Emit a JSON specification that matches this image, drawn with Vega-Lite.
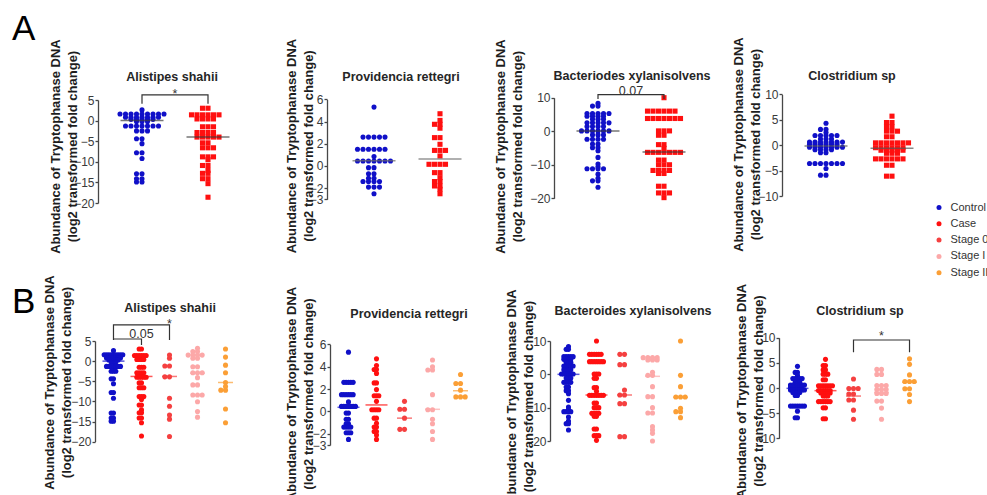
{
"$schema": "https://vega.github.io/schema/vega-lite/v6.json",
"padding": {"left": 12, "top": 12, "right": 2, "bottom": 2},
"config": {
  "font": "Liberation Sans",
  "view": {"stroke": null},
  "axis": {"domainColor": "#474747", "domainWidth": 1.3, "tickColor": "#474747", "tickWidth": 1.3, "tickSize": 3, "labelFont": "Liberation Sans", "labelFontSize": 12, "labelColor": "#3a3a3a", "labelPadding": 1, "labelOverlap": false, "labelFlush": false, "grid": false, "titleFont": "Liberation Sans", "titleFontSize": 13, "titleFontWeight": "bold", "titleColor": "#1e1e1e", "titleLineHeight": 17, "titleBaseline": "middle", "titleAlign": "center", "titleAngle": 270, "labelExpr": "replace(datum.label, '-', '\u2212')"},
  "title": {"font": "Liberation Sans", "fontSize": 12.5, "fontWeight": "bold", "color": "#262626", "anchor": "middle", "frame": "group", "offset": 0},
  "legend": {"labelFont": "Liberation Sans", "labelFontSize": 11, "labelColor": "#333333", "symbolType": "circle", "symbolSize": 25, "rowPadding": 4.3, "labelOffset": 6, "padding": 0, "symbolStrokeWidth": 0}
},
"datasets": {
"pts": [
{"sp":"AS","g":"Control","v":2.6},
{"sp":"AS","g":"Control","v":1.6},{"sp":"AS","g":"Control","v":1.6},{"sp":"AS","g":"Control","v":1.6},{"sp":"AS","g":"Control","v":1.6},{"sp":"AS","g":"Control","v":1.6},{"sp":"AS","g":"Control","v":1.6},{"sp":"AS","g":"Control","v":1.6},{"sp":"AS","g":"Control","v":1.6},{"sp":"AS","g":"Control","v":1.6},
{"sp":"AS","g":"Control","v":0.8},{"sp":"AS","g":"Control","v":0.8},{"sp":"AS","g":"Control","v":0.8},{"sp":"AS","g":"Control","v":0.8},{"sp":"AS","g":"Control","v":0.8},{"sp":"AS","g":"Control","v":0.8},{"sp":"AS","g":"Control","v":0.8},
{"sp":"AS","g":"Control","v":0.3},{"sp":"AS","g":"Control","v":0.3},{"sp":"AS","g":"Control","v":0.3},{"sp":"AS","g":"Control","v":0.3},{"sp":"AS","g":"Control","v":0.3},
{"sp":"AS","g":"Control","v":-0.2},{"sp":"AS","g":"Control","v":-0.2},{"sp":"AS","g":"Control","v":-0.2},
{"sp":"AS","g":"Control","v":-1.3},{"sp":"AS","g":"Control","v":-1.3},{"sp":"AS","g":"Control","v":-1.3},{"sp":"AS","g":"Control","v":-1.3},{"sp":"AS","g":"Control","v":-1.3},{"sp":"AS","g":"Control","v":-1.3},{"sp":"AS","g":"Control","v":-1.3},
{"sp":"AS","g":"Control","v":-2.5},{"sp":"AS","g":"Control","v":-2.5},{"sp":"AS","g":"Control","v":-2.5},
{"sp":"AS","g":"Control","v":-4.4},{"sp":"AS","g":"Control","v":-4.4},
{"sp":"AS","g":"Control","v":-5.6},
{"sp":"AS","g":"Control","v":-7.8},{"sp":"AS","g":"Control","v":-7.8},
{"sp":"AS","g":"Control","v":-9.2},
{"sp":"AS","g":"Control","v":-12.9},{"sp":"AS","g":"Control","v":-12.9},
{"sp":"AS","g":"Control","v":-14.1},{"sp":"AS","g":"Control","v":-14.1},
{"sp":"AS","g":"Control","v":-14.9},{"sp":"AS","g":"Control","v":-14.9},
{"sp":"AS","g":"Case","v":3.0},{"sp":"AS","g":"Case","v":3.0},
{"sp":"AS","g":"Case","v":1.4},{"sp":"AS","g":"Case","v":1.4},{"sp":"AS","g":"Case","v":1.4},{"sp":"AS","g":"Case","v":1.4},{"sp":"AS","g":"Case","v":1.4},{"sp":"AS","g":"Case","v":1.4},
{"sp":"AS","g":"Case","v":0.4},{"sp":"AS","g":"Case","v":0.4},{"sp":"AS","g":"Case","v":0.4},{"sp":"AS","g":"Case","v":0.4},
{"sp":"AS","g":"Case","v":-1.5},{"sp":"AS","g":"Case","v":-1.5},{"sp":"AS","g":"Case","v":-1.5},
{"sp":"AS","g":"Case","v":-2.9},{"sp":"AS","g":"Case","v":-2.9},{"sp":"AS","g":"Case","v":-2.9},{"sp":"AS","g":"Case","v":-2.9},
{"sp":"AS","g":"Case","v":-4.0},{"sp":"AS","g":"Case","v":-4.0},{"sp":"AS","g":"Case","v":-4.0},{"sp":"AS","g":"Case","v":-4.0},{"sp":"AS","g":"Case","v":-4.0},
{"sp":"AS","g":"Case","v":-5.4},{"sp":"AS","g":"Case","v":-5.4},
{"sp":"AS","g":"Case","v":-6.6},{"sp":"AS","g":"Case","v":-6.6},{"sp":"AS","g":"Case","v":-6.6},
{"sp":"AS","g":"Case","v":-8.8},{"sp":"AS","g":"Case","v":-8.8},{"sp":"AS","g":"Case","v":-8.8},
{"sp":"AS","g":"Case","v":-9.5},
{"sp":"AS","g":"Case","v":-10.9},{"sp":"AS","g":"Case","v":-10.9},
{"sp":"AS","g":"Case","v":-12.1},
{"sp":"AS","g":"Case","v":-12.8},{"sp":"AS","g":"Case","v":-12.8},
{"sp":"AS","g":"Case","v":-14.1},{"sp":"AS","g":"Case","v":-14.1},
{"sp":"AS","g":"Case","v":-15.3},
{"sp":"AS","g":"Case","v":-18.6},
{"sp":"AS","g":"Stage 0","v":1.5},{"sp":"AS","g":"Stage 0","v":0.7},{"sp":"AS","g":"Stage 0","v":-1.2},{"sp":"AS","g":"Stage 0","v":-1.2},{"sp":"AS","g":"Stage 0","v":-3.9},{"sp":"AS","g":"Stage 0","v":-3.9},{"sp":"AS","g":"Stage 0","v":-9.2},{"sp":"AS","g":"Stage 0","v":-11.2},{"sp":"AS","g":"Stage 0","v":-13.4},{"sp":"AS","g":"Stage 0","v":-14.4},{"sp":"AS","g":"Stage 0","v":-18.7},
{"sp":"AS","g":"Stage I","v":3.2},{"sp":"AS","g":"Stage I","v":2.4},{"sp":"AS","g":"Stage I","v":2.4},{"sp":"AS","g":"Stage I","v":1.5},{"sp":"AS","g":"Stage I","v":1.5},{"sp":"AS","g":"Stage I","v":1.5},{"sp":"AS","g":"Stage I","v":1.5},{"sp":"AS","g":"Stage I","v":0.7},{"sp":"AS","g":"Stage I","v":0.7},{"sp":"AS","g":"Stage I","v":-1.4},{"sp":"AS","g":"Stage I","v":-1.4},{"sp":"AS","g":"Stage I","v":-2.9},{"sp":"AS","g":"Stage I","v":-2.9},{"sp":"AS","g":"Stage I","v":-2.9},{"sp":"AS","g":"Stage I","v":-4.1},{"sp":"AS","g":"Stage I","v":-5.9},{"sp":"AS","g":"Stage I","v":-5.9},{"sp":"AS","g":"Stage I","v":-8.4},{"sp":"AS","g":"Stage I","v":-8.4},{"sp":"AS","g":"Stage I","v":-8.4},{"sp":"AS","g":"Stage I","v":-10.1},{"sp":"AS","g":"Stage I","v":-12.5},{"sp":"AS","g":"Stage I","v":-13.9},
{"sp":"AS","g":"Stage II","v":3.0},{"sp":"AS","g":"Stage II","v":1.0},{"sp":"AS","g":"Stage II","v":-1.0},{"sp":"AS","g":"Stage II","v":-2.9},{"sp":"AS","g":"Stage II","v":-5.3},{"sp":"AS","g":"Stage II","v":-6.3},{"sp":"AS","g":"Stage II","v":-7.2},{"sp":"AS","g":"Stage II","v":-7.2},{"sp":"AS","g":"Stage II","v":-11.9},{"sp":"AS","g":"Stage II","v":-15.3},

{"sp":"PR","g":"Control","v":5.3},
{"sp":"PR","g":"Control","v":2.6},{"sp":"PR","g":"Control","v":2.6},{"sp":"PR","g":"Control","v":2.6},{"sp":"PR","g":"Control","v":2.6},{"sp":"PR","g":"Control","v":2.6},
{"sp":"PR","g":"Control","v":1.5},{"sp":"PR","g":"Control","v":1.5},{"sp":"PR","g":"Control","v":1.5},{"sp":"PR","g":"Control","v":1.5},{"sp":"PR","g":"Control","v":1.5},{"sp":"PR","g":"Control","v":1.5},
{"sp":"PR","g":"Control","v":0.85},
{"sp":"PR","g":"Control","v":0.45},{"sp":"PR","g":"Control","v":0.45},{"sp":"PR","g":"Control","v":0.45},{"sp":"PR","g":"Control","v":0.45},{"sp":"PR","g":"Control","v":0.45},{"sp":"PR","g":"Control","v":0.45},{"sp":"PR","g":"Control","v":0.45},
{"sp":"PR","g":"Control","v":-0.15},{"sp":"PR","g":"Control","v":-0.15},
{"sp":"PR","g":"Control","v":-0.7},{"sp":"PR","g":"Control","v":-0.7},
{"sp":"PR","g":"Control","v":-1.1},{"sp":"PR","g":"Control","v":-1.1},
{"sp":"PR","g":"Control","v":-1.4},{"sp":"PR","g":"Control","v":-1.4},{"sp":"PR","g":"Control","v":-1.4},{"sp":"PR","g":"Control","v":-1.4},
{"sp":"PR","g":"Control","v":-1.9},{"sp":"PR","g":"Control","v":-1.9},{"sp":"PR","g":"Control","v":-1.9},
{"sp":"PR","g":"Control","v":-2.5},
{"sp":"PR","g":"Case","v":4.7},{"sp":"PR","g":"Case","v":4.1},{"sp":"PR","g":"Case","v":3.75},{"sp":"PR","g":"Case","v":3.75},{"sp":"PR","g":"Case","v":3.4},{"sp":"PR","g":"Case","v":2.55},{"sp":"PR","g":"Case","v":2.55},{"sp":"PR","g":"Case","v":1.95},{"sp":"PR","g":"Case","v":1.4},{"sp":"PR","g":"Case","v":1.4},{"sp":"PR","g":"Case","v":1.4},{"sp":"PR","g":"Case","v":0.9},{"sp":"PR","g":"Case","v":0.15},{"sp":"PR","g":"Case","v":0.15},{"sp":"PR","g":"Case","v":0.15},{"sp":"PR","g":"Case","v":0.15},{"sp":"PR","g":"Case","v":-0.6},{"sp":"PR","g":"Case","v":-0.6},{"sp":"PR","g":"Case","v":-1.05},{"sp":"PR","g":"Case","v":-1.4},{"sp":"PR","g":"Case","v":-1.4},{"sp":"PR","g":"Case","v":-1.8},{"sp":"PR","g":"Case","v":-1.8},{"sp":"PR","g":"Case","v":-2.1},{"sp":"PR","g":"Case","v":-2.5},
{"sp":"PR","g":"Stage 0","v":0.9},{"sp":"PR","g":"Stage 0","v":0.2},{"sp":"PR","g":"Stage 0","v":0.2},{"sp":"PR","g":"Stage 0","v":-0.6},{"sp":"PR","g":"Stage 0","v":-1.6},{"sp":"PR","g":"Stage 0","v":-1.6},
{"sp":"PR","g":"Stage I","v":4.6},{"sp":"PR","g":"Stage I","v":4.0},{"sp":"PR","g":"Stage I","v":3.7},{"sp":"PR","g":"Stage I","v":3.7},{"sp":"PR","g":"Stage I","v":1.5},{"sp":"PR","g":"Stage I","v":0.15},{"sp":"PR","g":"Stage I","v":0.15},{"sp":"PR","g":"Stage I","v":-0.7},{"sp":"PR","g":"Stage I","v":-1.1},{"sp":"PR","g":"Stage I","v":-1.8},{"sp":"PR","g":"Stage I","v":-2.5},
{"sp":"PR","g":"Stage II","v":3.3},{"sp":"PR","g":"Stage II","v":2.5},{"sp":"PR","g":"Stage II","v":2.5},{"sp":"PR","g":"Stage II","v":1.9},{"sp":"PR","g":"Stage II","v":1.3},{"sp":"PR","g":"Stage II","v":1.3},{"sp":"PR","g":"Stage II","v":1.3},

{"sp":"BX","g":"Control","v":8.3},
{"sp":"BX","g":"Control","v":7.5},{"sp":"BX","g":"Control","v":7.5},
{"sp":"BX","g":"Control","v":5.3},{"sp":"BX","g":"Control","v":5.3},{"sp":"BX","g":"Control","v":5.3},{"sp":"BX","g":"Control","v":5.3},{"sp":"BX","g":"Control","v":5.3},
{"sp":"BX","g":"Control","v":4.5},{"sp":"BX","g":"Control","v":4.5},{"sp":"BX","g":"Control","v":4.5},{"sp":"BX","g":"Control","v":4.5},
{"sp":"BX","g":"Control","v":3.6},{"sp":"BX","g":"Control","v":3.6},{"sp":"BX","g":"Control","v":3.6},
{"sp":"BX","g":"Control","v":2.5},{"sp":"BX","g":"Control","v":2.5},{"sp":"BX","g":"Control","v":2.5},{"sp":"BX","g":"Control","v":2.5},{"sp":"BX","g":"Control","v":2.5},
{"sp":"BX","g":"Control","v":1.4},{"sp":"BX","g":"Control","v":1.4},{"sp":"BX","g":"Control","v":1.4},{"sp":"BX","g":"Control","v":1.4},
{"sp":"BX","g":"Control","v":0.1},{"sp":"BX","g":"Control","v":0.1},{"sp":"BX","g":"Control","v":0.1},{"sp":"BX","g":"Control","v":0.1},{"sp":"BX","g":"Control","v":0.1},{"sp":"BX","g":"Control","v":0.1},
{"sp":"BX","g":"Control","v":-1.1},{"sp":"BX","g":"Control","v":-1.1},{"sp":"BX","g":"Control","v":-1.1},
{"sp":"BX","g":"Control","v":-2.4},{"sp":"BX","g":"Control","v":-2.4},{"sp":"BX","g":"Control","v":-2.4},{"sp":"BX","g":"Control","v":-2.4},
{"sp":"BX","g":"Control","v":-3.8},{"sp":"BX","g":"Control","v":-3.8},
{"sp":"BX","g":"Control","v":-4.9},{"sp":"BX","g":"Control","v":-4.9},
{"sp":"BX","g":"Control","v":-5.8},{"sp":"BX","g":"Control","v":-7.8},{"sp":"BX","g":"Control","v":-9.8},{"sp":"BX","g":"Control","v":-10.6},
{"sp":"BX","g":"Control","v":-11.2},{"sp":"BX","g":"Control","v":-11.2},{"sp":"BX","g":"Control","v":-11.2},{"sp":"BX","g":"Control","v":-11.2},
{"sp":"BX","g":"Control","v":-12.8},{"sp":"BX","g":"Control","v":-14.0},{"sp":"BX","g":"Control","v":-14.8},{"sp":"BX","g":"Control","v":-14.8},{"sp":"BX","g":"Control","v":-16.7},
{"sp":"BX","g":"Case","v":10.0},
{"sp":"BX","g":"Case","v":6.0},{"sp":"BX","g":"Case","v":6.0},{"sp":"BX","g":"Case","v":6.0},{"sp":"BX","g":"Case","v":6.0},{"sp":"BX","g":"Case","v":6.0},{"sp":"BX","g":"Case","v":6.0},
{"sp":"BX","g":"Case","v":3.8},{"sp":"BX","g":"Case","v":3.8},{"sp":"BX","g":"Case","v":3.8},{"sp":"BX","g":"Case","v":3.8},{"sp":"BX","g":"Case","v":3.8},{"sp":"BX","g":"Case","v":3.8},{"sp":"BX","g":"Case","v":3.8},
{"sp":"BX","g":"Case","v":0.1},{"sp":"BX","g":"Case","v":0.1},{"sp":"BX","g":"Case","v":0.1},
{"sp":"BX","g":"Case","v":-1.2},{"sp":"BX","g":"Case","v":-1.2},
{"sp":"BX","g":"Case","v":-4.0},{"sp":"BX","g":"Case","v":-4.0},
{"sp":"BX","g":"Case","v":-5.1},
{"sp":"BX","g":"Case","v":-6.3},{"sp":"BX","g":"Case","v":-6.3},{"sp":"BX","g":"Case","v":-6.3},{"sp":"BX","g":"Case","v":-6.3},{"sp":"BX","g":"Case","v":-6.3},{"sp":"BX","g":"Case","v":-6.3},{"sp":"BX","g":"Case","v":-6.3},
{"sp":"BX","g":"Case","v":-8.6},{"sp":"BX","g":"Case","v":-8.6},
{"sp":"BX","g":"Case","v":-10.0},{"sp":"BX","g":"Case","v":-10.0},{"sp":"BX","g":"Case","v":-10.0},
{"sp":"BX","g":"Case","v":-11.7},{"sp":"BX","g":"Case","v":-11.7},{"sp":"BX","g":"Case","v":-11.7},{"sp":"BX","g":"Case","v":-11.7},
{"sp":"BX","g":"Case","v":-12.6},{"sp":"BX","g":"Case","v":-12.6},
{"sp":"BX","g":"Case","v":-16.4},{"sp":"BX","g":"Case","v":-16.4},
{"sp":"BX","g":"Case","v":-18.4},{"sp":"BX","g":"Case","v":-18.4},{"sp":"BX","g":"Case","v":-18.4},
{"sp":"BX","g":"Case","v":-19.8},
{"sp":"BX","g":"Stage 0","v":6.0},{"sp":"BX","g":"Stage 0","v":6.0},{"sp":"BX","g":"Stage 0","v":2.9},{"sp":"BX","g":"Stage 0","v":2.9},{"sp":"BX","g":"Stage 0","v":-4.7},{"sp":"BX","g":"Stage 0","v":-6.2},{"sp":"BX","g":"Stage 0","v":-6.2},{"sp":"BX","g":"Stage 0","v":-8.8},{"sp":"BX","g":"Stage 0","v":-8.8},{"sp":"BX","g":"Stage 0","v":-18.7},{"sp":"BX","g":"Stage 0","v":-18.7},
{"sp":"BX","g":"Stage I","v":5.0},{"sp":"BX","g":"Stage I","v":5.0},{"sp":"BX","g":"Stage I","v":5.0},{"sp":"BX","g":"Stage I","v":5.0},{"sp":"BX","g":"Stage I","v":4.3},{"sp":"BX","g":"Stage I","v":4.3},{"sp":"BX","g":"Stage I","v":4.3},{"sp":"BX","g":"Stage I","v":0.6},{"sp":"BX","g":"Stage I","v":-0.3},{"sp":"BX","g":"Stage I","v":-0.3},{"sp":"BX","g":"Stage I","v":-3.7},{"sp":"BX","g":"Stage I","v":-6.7},{"sp":"BX","g":"Stage I","v":-6.7},{"sp":"BX","g":"Stage I","v":-10.0},{"sp":"BX","g":"Stage I","v":-11.6},{"sp":"BX","g":"Stage I","v":-11.6},{"sp":"BX","g":"Stage I","v":-15.7},{"sp":"BX","g":"Stage I","v":-16.7},{"sp":"BX","g":"Stage I","v":-17.7},{"sp":"BX","g":"Stage I","v":-20.0},
{"sp":"BX","g":"Stage II","v":10.0},{"sp":"BX","g":"Stage II","v":-0.3},{"sp":"BX","g":"Stage II","v":-3.7},{"sp":"BX","g":"Stage II","v":-6.8},{"sp":"BX","g":"Stage II","v":-6.8},{"sp":"BX","g":"Stage II","v":-6.8},{"sp":"BX","g":"Stage II","v":-10.2},{"sp":"BX","g":"Stage II","v":-11.2},{"sp":"BX","g":"Stage II","v":-11.2},{"sp":"BX","g":"Stage II","v":-13.0},

{"sp":"CS","g":"Control","v":4.3},
{"sp":"CS","g":"Control","v":3.1},{"sp":"CS","g":"Control","v":3.1},
{"sp":"CS","g":"Control","v":2.5},
{"sp":"CS","g":"Control","v":1.9},{"sp":"CS","g":"Control","v":1.9},{"sp":"CS","g":"Control","v":1.9},{"sp":"CS","g":"Control","v":1.9},{"sp":"CS","g":"Control","v":1.9},
{"sp":"CS","g":"Control","v":1.2},{"sp":"CS","g":"Control","v":1.2},{"sp":"CS","g":"Control","v":1.2},
{"sp":"CS","g":"Control","v":0.6},{"sp":"CS","g":"Control","v":0.6},{"sp":"CS","g":"Control","v":0.6},{"sp":"CS","g":"Control","v":0.6},{"sp":"CS","g":"Control","v":0.6},{"sp":"CS","g":"Control","v":0.6},{"sp":"CS","g":"Control","v":0.6},
{"sp":"CS","g":"Control","v":0.2},{"sp":"CS","g":"Control","v":0.2},{"sp":"CS","g":"Control","v":0.2},{"sp":"CS","g":"Control","v":0.2},{"sp":"CS","g":"Control","v":0.2},{"sp":"CS","g":"Control","v":0.2},
{"sp":"CS","g":"Control","v":-0.4},{"sp":"CS","g":"Control","v":-0.4},{"sp":"CS","g":"Control","v":-0.4},{"sp":"CS","g":"Control","v":-0.4},{"sp":"CS","g":"Control","v":-0.4},{"sp":"CS","g":"Control","v":-0.4},{"sp":"CS","g":"Control","v":-0.4},
{"sp":"CS","g":"Control","v":-0.9},{"sp":"CS","g":"Control","v":-0.9},{"sp":"CS","g":"Control","v":-0.9},{"sp":"CS","g":"Control","v":-0.9},
{"sp":"CS","g":"Control","v":-1.5},{"sp":"CS","g":"Control","v":-1.5},
{"sp":"CS","g":"Control","v":-3.6},{"sp":"CS","g":"Control","v":-3.6},{"sp":"CS","g":"Control","v":-3.6},{"sp":"CS","g":"Control","v":-3.6},{"sp":"CS","g":"Control","v":-3.6},{"sp":"CS","g":"Control","v":-3.6},{"sp":"CS","g":"Control","v":-3.6},
{"sp":"CS","g":"Control","v":-4.6},
{"sp":"CS","g":"Control","v":-5.9},{"sp":"CS","g":"Control","v":-5.9},
{"sp":"CS","g":"Case","v":5.7},
{"sp":"CS","g":"Case","v":4.45},{"sp":"CS","g":"Case","v":4.45},
{"sp":"CS","g":"Case","v":3.6},{"sp":"CS","g":"Case","v":3.6},
{"sp":"CS","g":"Case","v":2.75},{"sp":"CS","g":"Case","v":2.75},{"sp":"CS","g":"Case","v":2.75},
{"sp":"CS","g":"Case","v":1.65},{"sp":"CS","g":"Case","v":1.65},
{"sp":"CS","g":"Case","v":0.45},{"sp":"CS","g":"Case","v":0.45},{"sp":"CS","g":"Case","v":0.45},{"sp":"CS","g":"Case","v":0.45},{"sp":"CS","g":"Case","v":0.45},{"sp":"CS","g":"Case","v":0.45},{"sp":"CS","g":"Case","v":0.45},
{"sp":"CS","g":"Case","v":-0.5},{"sp":"CS","g":"Case","v":-0.5},{"sp":"CS","g":"Case","v":-0.5},{"sp":"CS","g":"Case","v":-0.5},{"sp":"CS","g":"Case","v":-0.5},{"sp":"CS","g":"Case","v":-0.5},
{"sp":"CS","g":"Case","v":-1.0},{"sp":"CS","g":"Case","v":-1.0},{"sp":"CS","g":"Case","v":-1.0},{"sp":"CS","g":"Case","v":-1.0},{"sp":"CS","g":"Case","v":-1.0},
{"sp":"CS","g":"Case","v":-1.6},{"sp":"CS","g":"Case","v":-1.6},{"sp":"CS","g":"Case","v":-1.6},
{"sp":"CS","g":"Case","v":-2.7},{"sp":"CS","g":"Case","v":-2.7},{"sp":"CS","g":"Case","v":-2.7},{"sp":"CS","g":"Case","v":-2.7},{"sp":"CS","g":"Case","v":-2.7},{"sp":"CS","g":"Case","v":-2.7},
{"sp":"CS","g":"Case","v":-3.95},{"sp":"CS","g":"Case","v":-3.95},
{"sp":"CS","g":"Case","v":-6.1},{"sp":"CS","g":"Case","v":-6.1},
{"sp":"CS","g":"Stage 0","v":1.8},{"sp":"CS","g":"Stage 0","v":-0.1},{"sp":"CS","g":"Stage 0","v":-0.1},{"sp":"CS","g":"Stage 0","v":-0.1},{"sp":"CS","g":"Stage 0","v":-1.2},{"sp":"CS","g":"Stage 0","v":-1.2},{"sp":"CS","g":"Stage 0","v":-2.4},{"sp":"CS","g":"Stage 0","v":-2.4},{"sp":"CS","g":"Stage 0","v":-4.4},{"sp":"CS","g":"Stage 0","v":-6.2},
{"sp":"CS","g":"Stage I","v":3.7},{"sp":"CS","g":"Stage I","v":3.7},{"sp":"CS","g":"Stage I","v":2.7},{"sp":"CS","g":"Stage I","v":2.7},{"sp":"CS","g":"Stage I","v":0.5},{"sp":"CS","g":"Stage I","v":0.5},{"sp":"CS","g":"Stage I","v":0.5},{"sp":"CS","g":"Stage I","v":-0.3},{"sp":"CS","g":"Stage I","v":-0.3},{"sp":"CS","g":"Stage I","v":-0.3},{"sp":"CS","g":"Stage I","v":-1.1},{"sp":"CS","g":"Stage I","v":-1.1},{"sp":"CS","g":"Stage I","v":-1.1},{"sp":"CS","g":"Stage I","v":-2.6},{"sp":"CS","g":"Stage I","v":-2.6},{"sp":"CS","g":"Stage I","v":-4.0},{"sp":"CS","g":"Stage I","v":-6.2},
{"sp":"CS","g":"Stage II","v":5.8},{"sp":"CS","g":"Stage II","v":4.7},{"sp":"CS","g":"Stage II","v":2.6},{"sp":"CS","g":"Stage II","v":1.3},{"sp":"CS","g":"Stage II","v":1.3},{"sp":"CS","g":"Stage II","v":1.3},{"sp":"CS","g":"Stage II","v":-0.15},{"sp":"CS","g":"Stage II","v":-0.15},{"sp":"CS","g":"Stage II","v":-1.3},{"sp":"CS","g":"Stage II","v":-2.7}
],
"med": [
{"sp":"AS","p":"A","g":"Control","v":0},{"sp":"AS","p":"A","g":"Case","v":-4},
{"sp":"PR","p":"A","g":"Control","v":0.47},{"sp":"PR","p":"A","g":"Case","v":0.63},
{"sp":"BX","p":"A","g":"Control","v":0.05},{"sp":"BX","p":"A","g":"Case","v":-6.2},
{"sp":"CS","p":"A","g":"Control","v":-0.15},{"sp":"CS","p":"A","g":"Case","v":-0.6},
{"sp":"AS","p":"B","g":"Control","v":0},{"sp":"AS","p":"B","g":"Case","v":-3.8},{"sp":"AS","p":"B","g":"Stage 0","v":-3.8},{"sp":"AS","p":"B","g":"Stage I","v":-3.0},{"sp":"AS","p":"B","g":"Stage II","v":-5.3},
{"sp":"PR","p":"B","g":"Control","v":0.37},{"sp":"PR","p":"B","g":"Case","v":0.58},{"sp":"PR","p":"B","g":"Stage 0","v":-0.6},{"sp":"PR","p":"B","g":"Stage I","v":0.19},{"sp":"PR","p":"B","g":"Stage II","v":1.85},
{"sp":"BX","p":"B","g":"Control","v":0},{"sp":"BX","p":"B","g":"Case","v":-6.2},{"sp":"BX","p":"B","g":"Stage 0","v":-6.2},{"sp":"BX","p":"B","g":"Stage I","v":-0.6},{"sp":"BX","p":"B","g":"Stage II","v":-6.9},
{"sp":"CS","p":"B","g":"Control","v":-0.07},{"sp":"CS","p":"B","g":"Case","v":-0.53},{"sp":"CS","p":"B","g":"Stage 0","v":-1.6},{"sp":"CS","p":"B","g":"Stage I","v":-0.86},{"sp":"CS","p":"B","g":"Stage II","v":1.13}
],
"brk": [
{"sp":"AS","p":"A","id":1,"k":1,"g":"Control","v":4.1},{"sp":"AS","p":"A","id":1,"k":2,"g":"Control","v":6.22},{"sp":"AS","p":"A","id":1,"k":3,"g":"Case","v":6.22},{"sp":"AS","p":"A","id":1,"k":4,"g":"Case","v":4.1},
{"sp":"BX","p":"A","id":2,"k":1,"g":"Control","v":9.6},{"sp":"BX","p":"A","id":2,"k":2,"g":"Control","v":10.9},{"sp":"BX","p":"A","id":2,"k":3,"g":"Case","v":10.9},{"sp":"BX","p":"A","id":2,"k":4,"g":"Case","v":9.6},
{"sp":"AS","p":"B","id":3,"k":1,"g":"Control","v":5.25},{"sp":"AS","p":"B","id":3,"k":2,"g":"Control","v":9.0},{"sp":"AS","p":"B","id":3,"k":3,"g":"Stage 0","v":9.0},{"sp":"AS","p":"B","id":3,"k":4,"g":"Stage 0","v":5.25},
{"sp":"AS","p":"B","id":4,"k":1,"g":"Control","v":5.5},{"sp":"AS","p":"B","id":4,"k":2,"g":"Case","v":5.5},{"sp":"AS","p":"B","id":4,"k":3,"g":"Case","v":4.0},
{"sp":"CS","p":"B","id":5,"k":1,"g":"Stage 0","v":7.1},{"sp":"CS","p":"B","id":5,"k":2,"g":"Stage 0","v":9.54},{"sp":"CS","p":"B","id":5,"k":3,"g":"Stage II","v":9.54},{"sp":"CS","p":"B","id":5,"k":4,"g":"Stage II","v":7.1}
],
"lab": [
{"sp":"AS","p":"A","g":"Control","t":"*","v":6.56},
{"sp":"BX","p":"A","g":"Control","t":"0.07","v":12.06},
{"sp":"AS","p":"B","g":"Case","t":"0.05","v":6.71},
{"sp":"AS","p":"B","g":"Stage 0","t":"*","v":9.32},
{"sp":"CS","p":"B","g":"Stage I","t":"*","v":10.36}
]
},
"resolve": {"scale": {"color": "shared", "shape": "shared"}},
"bounds": "flush",
"spacing": 243,
"vconcat": [
{
"title": {"text": "A", "anchor": "start", "frame": "group", "fontSize": 35, "fontWeight": "normal", "color": "#000000", "dx": -86, "dy": 10.5, "offset": 0},
"bounds": "flush",
"spacing": 74,
"hconcat": [
{
"width": 155, "height": 110,
"title": {"text": "Alistipes shahii", "dx": -3.5, "dy": 49},
"encoding": {
  "x": {"field": "g", "type": "nominal", "scale": {"domain": ["Control","Case"], "range": [0,154], "paddingInner": 0, "paddingOuter": 0.1667}, "axis": null},
  "y": {"field": "v", "type": "quantitative", "scale": {"domain": [-20,5], "range": [109,6], "nice": false, "zero": false}, "axis": {"title": ["Abundance of Tryptophanase DNA", "(log2 transformed fold change)"], "values": [-20,-15,-10,-5,0,5], "titleX": -43, "titleY": 52}}
},
"layer": [
{"data": {"name": "pts"}, "transform": [{"filter": "datum.sp == 'AS' && (datum.g == 'Control' || datum.g == 'Case')"}, {"window": [{"op": "row_number", "as": "rk"}], "groupby": ["g", "v"]}],
 "mark": {"type": "point", "filled": true, "opacity": 1, "size": 26, "strokeWidth": 0},
 "encoding": {
  "xOffset": {"field": "rk", "type": "ordinal", "scale": {"domain": [12,10,8,6,4,2,1,3,5,7,9,11,13], "paddingInner": 0, "paddingOuter": 0}},
  "color": {"field": "g", "type": "nominal", "scale": {"domain": ["Control","Case","Stage 0","Stage I","Stage II"], "range": ["#1010c8","#ff1010","#f54040","#fca8a8","#fb9f36"]}},
  "shape": {"field": "g", "type": "nominal", "scale": {"domain": ["Control","Case"], "range": ["circle","square"]}, "legend": null}
 }},
{"data": {"name": "med"}, "transform": [{"filter": "datum.sp == 'AS' && datum.p == 'A'"}],
 "mark": {"type": "tick", "orient": "horizontal", "size": 43, "thickness": 1.5, "color": "#3c3c3c"}, "encoding": {}},
{"data": {"name": "brk"}, "transform": [{"filter": "datum.sp == 'AS' && datum.p == 'A'"}],
 "mark": {"type": "line", "color": "#333333", "strokeWidth": 1.2},
 "encoding": {"x": {"field": "g", "type": "nominal", "bandPosition": 0.5}, "detail": {"field": "id", "type": "nominal"}, "order": {"field": "k", "type": "quantitative"}}},
{"data": {"name": "lab"}, "transform": [{"filter": "datum.sp == 'AS' && datum.p == 'A'"}],
 "mark": {"type": "text", "fontSize": 12.5, "color": "#333333", "baseline": "middle"},
 "encoding": {"x": {"field": "g", "type": "nominal", "bandPosition": 1}, "text": {"field": "t"}}}
]
},
{
"width": 153, "height": 110,
"title": {"text": "Providencia rettegri", "dx": -2.5, "dy": 49},
"encoding": {
  "x": {"field": "g", "type": "nominal", "scale": {"domain": ["Control","Case"], "range": [3,157], "paddingInner": 0, "paddingOuter": 0.1667}, "axis": null},
  "y": {"field": "v", "type": "quantitative", "scale": {"domain": [-3,6], "range": [105.3,5.3], "nice": false, "zero": false}, "axis": {"title": ["Abundance of Tryptophanase DNA", "(log2 transformed fold change)"], "values": [-3,-2,0,2,4,6], "titleX": -36, "titleY": 51.5}}
},
"layer": [
{"data": {"name": "pts"}, "transform": [{"filter": "datum.sp == 'PR' && (datum.g == 'Control' || datum.g == 'Case')"}, {"window": [{"op": "row_number", "as": "rk"}], "groupby": ["g", "v"]}],
 "mark": {"type": "point", "filled": true, "opacity": 1, "size": 26, "strokeWidth": 0},
 "encoding": {
  "xOffset": {"field": "rk", "type": "ordinal", "scale": {"domain": [12,10,8,6,4,2,1,3,5,7,9,11,13], "paddingInner": 0, "paddingOuter": 0}},
  "color": {"field": "g", "type": "nominal", "scale": {"domain": ["Control","Case","Stage 0","Stage I","Stage II"], "range": ["#1010c8","#ff1010","#f54040","#fca8a8","#fb9f36"]}},
  "shape": {"field": "g", "type": "nominal", "scale": {"domain": ["Control","Case"], "range": ["circle","square"]}, "legend": null}
 }},
{"data": {"name": "med"}, "transform": [{"filter": "datum.sp == 'PR' && datum.p == 'A'"}],
 "mark": {"type": "tick", "orient": "horizontal", "size": 43, "thickness": 1.5, "color": "#6a6a6a"}, "encoding": {}}
]
},
{
"width": 154, "height": 110,
"title": {"text": "Bacteriodes xylanisolvens", "dx": 1, "dy": 48},
"encoding": {
  "x": {"field": "g", "type": "nominal", "scale": {"domain": ["Control","Case"], "range": [0,154], "paddingInner": 0, "paddingOuter": 0.1667}, "axis": null},
  "y": {"field": "v", "type": "quantitative", "scale": {"domain": [-20,10], "range": [104.3,3.7], "nice": false, "zero": false}, "axis": {"title": ["Abundance of Tryptophanase DNA", "(log2 transformed fold change)"], "values": [-20,-10,0,10], "titleX": -54, "titleY": 52}}
},
"layer": [
{"data": {"name": "pts"}, "transform": [{"filter": "datum.sp == 'BX' && (datum.g == 'Control' || datum.g == 'Case')"}, {"window": [{"op": "row_number", "as": "rk"}], "groupby": ["g", "v"]}],
 "mark": {"type": "point", "filled": true, "opacity": 1, "size": 26, "strokeWidth": 0},
 "encoding": {
  "xOffset": {"field": "rk", "type": "ordinal", "scale": {"domain": [12,10,8,6,4,2,1,3,5,7,9,11,13], "paddingInner": 0, "paddingOuter": 0}},
  "color": {"field": "g", "type": "nominal", "scale": {"domain": ["Control","Case","Stage 0","Stage I","Stage II"], "range": ["#1010c8","#ff1010","#f54040","#fca8a8","#fb9f36"]}},
  "shape": {"field": "g", "type": "nominal", "scale": {"domain": ["Control","Case"], "range": ["circle","square"]}, "legend": null}
 }},
{"data": {"name": "med"}, "transform": [{"filter": "datum.sp == 'BX' && datum.p == 'A'"}],
 "mark": {"type": "tick", "orient": "horizontal", "size": 43, "thickness": 1.5, "color": "#3c3c3c"}, "encoding": {}},
{"data": {"name": "brk"}, "transform": [{"filter": "datum.sp == 'BX' && datum.p == 'A'"}],
 "mark": {"type": "line", "color": "#333333", "strokeWidth": 1.2},
 "encoding": {"x": {"field": "g", "type": "nominal", "bandPosition": 0.5}, "detail": {"field": "id", "type": "nominal"}, "order": {"field": "k", "type": "quantitative"}}},
{"data": {"name": "lab"}, "transform": [{"filter": "datum.sp == 'BX' && datum.p == 'A'"}],
 "mark": {"type": "text", "fontSize": 12.5, "color": "#333333", "baseline": "middle"},
 "encoding": {"x": {"field": "g", "type": "nominal", "bandPosition": 1}, "text": {"field": "t"}}}
]
},
{
"width": 154, "height": 110,
"title": {"text": "Clostridium sp", "dx": -7, "dy": 50},
"encoding": {
  "x": {"field": "g", "type": "nominal", "scale": {"domain": ["Control","Case"], "range": [0,154], "paddingInner": 0, "paddingOuter": 0.1667}, "axis": null},
  "y": {"field": "v", "type": "quantitative", "scale": {"domain": [-10,10], "range": [102,0.3], "nice": false, "zero": false}, "axis": {"title": ["Abundance of Tryptophanase DNA", "(log2 transformed fold change)"], "values": [-10,-5,0,5,10], "titleX": -44, "titleY": 50}}
},
"layer": [
{"data": {"name": "pts"}, "transform": [{"filter": "datum.sp == 'CS' && (datum.g == 'Control' || datum.g == 'Case')"}, {"window": [{"op": "row_number", "as": "rk"}], "groupby": ["g", "v"]}],
 "mark": {"type": "point", "filled": true, "opacity": 1, "size": 26, "strokeWidth": 0},
 "encoding": {
  "xOffset": {"field": "rk", "type": "ordinal", "scale": {"domain": [12,10,8,6,4,2,1,3,5,7,9,11,13], "paddingInner": 0, "paddingOuter": 0}},
  "color": {"field": "g", "type": "nominal", "scale": {"domain": ["Control","Case","Stage 0","Stage I","Stage II"], "range": ["#1010c8","#ff1010","#f54040","#fca8a8","#fb9f36"]}},
  "shape": {"field": "g", "type": "nominal", "scale": {"domain": ["Control","Case"], "range": ["circle","square"]}, "legend": null}
 }},
{"data": {"name": "med"}, "transform": [{"filter": "datum.sp == 'CS' && datum.p == 'A'"}],
 "mark": {"type": "tick", "orient": "horizontal", "size": 43, "thickness": 1.5, "color": "#555555"}, "encoding": {}}
]
}
]
},
{
"title": {"text": "B", "anchor": "start", "frame": "group", "fontSize": 35, "fontWeight": "normal", "color": "#000000", "dx": -86, "dy": 45.5, "offset": 0},
"bounds": "flush",
"spacing": 80,
"hconcat": [
{
"width": 152, "height": 109,
"title": {"text": "Alistipes shahii", "dx": -4, "dy": 44},
"resolve": {"scale": {"xOffset": "independent"}},
"encoding": {
  "x": {"field": "g", "type": "nominal", "scale": {"domain": ["Control","Case","Stage 0","Stage I","Stage II"], "range": [-3,146], "paddingInner": 0, "paddingOuter": 0.16}, "axis": null},
  "y": {"field": "v", "type": "quantitative", "scale": {"domain": [-20,5], "range": [104.7,4], "nice": false, "zero": false}, "axis": {"title": ["Abundance of Tryptophanase DNA", "(log2 transformed fold change)"], "values": [-20,-15,-10,-5,0,5], "titleX": -45.3, "titleY": 45, "offset": 3}}
},
"layer": [
{"data": {"name": "pts"}, "transform": [{"filter": "datum.sp == 'AS' && (datum.g == 'Control' || datum.g == 'Case')"}, {"window": [{"op": "row_number", "as": "rk"}], "groupby": ["g", "v"]}],
 "mark": {"type": "point", "shape": "circle", "filled": true, "opacity": 1, "size": 26, "strokeWidth": 0},
 "encoding": {
  "xOffset": {"field": "rk", "type": "ordinal", "scale": {"domain": [12,10,8,6,4,2,1,3,5,7,9,11,13], "paddingInner": 0, "paddingOuter": 0}},
  "color": {"field": "g", "type": "nominal", "scale": {"domain": ["Control","Case","Stage 0","Stage I","Stage II"], "range": ["#1010c8","#ff1010","#f54040","#fca8a8","#fb9f36"]}, "legend": {"orient": "none", "legendX": 835.5, "legendY": 108, "title": null}}
 }},
{"data": {"name": "pts"}, "transform": [{"filter": "datum.sp == 'AS' && datum.g != 'Control' && datum.g != 'Case'"}, {"window": [{"op": "row_number", "as": "rk"}], "groupby": ["g", "v"]}],
 "mark": {"type": "point", "shape": "circle", "filled": true, "opacity": 1, "size": 26, "strokeWidth": 0},
 "encoding": {
  "xOffset": {"field": "rk", "type": "ordinal", "scale": {"domain": [6,4,2,1,3,5,7], "paddingInner": 0, "paddingOuter": 0}},
  "color": {"field": "g", "type": "nominal"}
 }},
{"data": {"name": "med"}, "transform": [{"filter": "datum.sp == 'AS' && datum.p == 'B' && (datum.g == 'Control' || datum.g == 'Case')"}],
 "mark": {"type": "tick", "orient": "horizontal", "size": 22, "thickness": 1.5},
 "encoding": {"color": {"field": "g", "type": "nominal", "legend": null}}},
{"data": {"name": "med"}, "transform": [{"filter": "datum.sp == 'AS' && datum.p == 'B' && datum.g != 'Control' && datum.g != 'Case'"}],
 "mark": {"type": "tick", "orient": "horizontal", "size": 15, "thickness": 1.5},
 "encoding": {"color": {"field": "g", "type": "nominal", "legend": null}}},
{"data": {"name": "brk"}, "transform": [{"filter": "datum.sp == 'AS' && datum.p == 'B'"}],
 "mark": {"type": "line", "color": "#333333", "strokeWidth": 1.2},
 "encoding": {"x": {"field": "g", "type": "nominal", "bandPosition": 0.5}, "detail": {"field": "id", "type": "nominal"}, "order": {"field": "k", "type": "quantitative"}}},
{"data": {"name": "lab"}, "transform": [{"filter": "datum.sp == 'AS' && datum.p == 'B'"}],
 "mark": {"type": "text", "fontSize": 12.5, "color": "#333333", "baseline": "middle"},
 "encoding": {"x": {"field": "g", "type": "nominal", "bandPosition": 0.5}, "text": {"field": "t"}}}
]
},
{
"width": 140, "height": 109,
"title": {"text": "Providencia rettegri", "dx": 9, "dy": 38},
"resolve": {"scale": {"xOffset": "independent"}},
"encoding": {
  "x": {"field": "g", "type": "nominal", "scale": {"domain": ["Control","Case","Stage 0","Stage I","Stage II"], "range": [0,149], "paddingInner": 0, "paddingOuter": 0.16}, "axis": null},
  "y": {"field": "v", "type": "quantitative", "scale": {"domain": [-3,6], "range": [108,7.3], "nice": false, "zero": false}, "axis": {"title": ["Abundance of Tryptophanase DNA", "(log2 transformed fold change)"], "values": [-3,-2,0,2,4,6], "titleX": -39, "titleY": 56.5}}
},
"layer": [
{"data": {"name": "pts"}, "transform": [{"filter": "datum.sp == 'PR' && (datum.g == 'Control' || datum.g == 'Case')"}, {"window": [{"op": "row_number", "as": "rk"}], "groupby": ["g", "v"]}],
 "mark": {"type": "point", "shape": "circle", "filled": true, "opacity": 1, "size": 26, "strokeWidth": 0},
 "encoding": {
  "xOffset": {"field": "rk", "type": "ordinal", "scale": {"domain": [12,10,8,6,4,2,1,3,5,7,9,11,13], "paddingInner": 0, "paddingOuter": 0}},
  "color": {"field": "g", "type": "nominal", "scale": {"domain": ["Control","Case","Stage 0","Stage I","Stage II"], "range": ["#1010c8","#ff1010","#f54040","#fca8a8","#fb9f36"]}}
 }},
{"data": {"name": "pts"}, "transform": [{"filter": "datum.sp == 'PR' && datum.g != 'Control' && datum.g != 'Case'"}, {"window": [{"op": "row_number", "as": "rk"}], "groupby": ["g", "v"]}],
 "mark": {"type": "point", "shape": "circle", "filled": true, "opacity": 1, "size": 26, "strokeWidth": 0},
 "encoding": {
  "xOffset": {"field": "rk", "type": "ordinal", "scale": {"domain": [6,4,2,1,3,5,7], "paddingInner": 0, "paddingOuter": 0}},
  "color": {"field": "g", "type": "nominal"}
 }},
{"data": {"name": "med"}, "transform": [{"filter": "datum.sp == 'PR' && datum.p == 'B' && (datum.g == 'Control' || datum.g == 'Case')"}],
 "mark": {"type": "tick", "orient": "horizontal", "size": 22, "thickness": 1.5},
 "encoding": {"color": {"field": "g", "type": "nominal", "legend": null}}},
{"data": {"name": "med"}, "transform": [{"filter": "datum.sp == 'PR' && datum.p == 'B' && datum.g != 'Control' && datum.g != 'Case'"}],
 "mark": {"type": "tick", "orient": "horizontal", "size": 15, "thickness": 1.5},
 "encoding": {"color": {"field": "g", "type": "nominal", "legend": null}}}
]
},
{
"width": 149, "height": 109,
"title": {"text": "Bacteroides xylanisolvens", "dx": 8.5, "dy": 33},
"resolve": {"scale": {"xOffset": "independent"}},
"encoding": {
  "x": {"field": "g", "type": "nominal", "scale": {"domain": ["Control","Case","Stage 0","Stage I","Stage II"], "range": [0,149], "paddingInner": 0, "paddingOuter": 0.16}, "axis": null},
  "y": {"field": "v", "type": "quantitative", "scale": {"domain": [-20,10], "range": [104,4], "nice": false, "zero": false}, "axis": {"title": ["Abundance of Tryptophanase DNA", "(log2 transformed fold change)"], "values": [-20,-10,0,10], "titleX": -39, "titleY": 59}}
},
"layer": [
{"data": {"name": "pts"}, "transform": [{"filter": "datum.sp == 'BX' && (datum.g == 'Control' || datum.g == 'Case')"}, {"window": [{"op": "row_number", "as": "rk"}], "groupby": ["g", "v"]}],
 "mark": {"type": "point", "shape": "circle", "filled": true, "opacity": 1, "size": 26, "strokeWidth": 0},
 "encoding": {
  "xOffset": {"field": "rk", "type": "ordinal", "scale": {"domain": [12,10,8,6,4,2,1,3,5,7,9,11,13], "paddingInner": 0, "paddingOuter": 0}},
  "color": {"field": "g", "type": "nominal", "scale": {"domain": ["Control","Case","Stage 0","Stage I","Stage II"], "range": ["#1010c8","#ff1010","#f54040","#fca8a8","#fb9f36"]}}
 }},
{"data": {"name": "pts"}, "transform": [{"filter": "datum.sp == 'BX' && datum.g != 'Control' && datum.g != 'Case'"}, {"window": [{"op": "row_number", "as": "rk"}], "groupby": ["g", "v"]}],
 "mark": {"type": "point", "shape": "circle", "filled": true, "opacity": 1, "size": 26, "strokeWidth": 0},
 "encoding": {
  "xOffset": {"field": "rk", "type": "ordinal", "scale": {"domain": [6,4,2,1,3,5,7], "paddingInner": 0, "paddingOuter": 0}},
  "color": {"field": "g", "type": "nominal"}
 }},
{"data": {"name": "med"}, "transform": [{"filter": "datum.sp == 'BX' && datum.p == 'B' && (datum.g == 'Control' || datum.g == 'Case')"}],
 "mark": {"type": "tick", "orient": "horizontal", "size": 22, "thickness": 1.5},
 "encoding": {"color": {"field": "g", "type": "nominal", "legend": null}}},
{"data": {"name": "med"}, "transform": [{"filter": "datum.sp == 'BX' && datum.p == 'B' && datum.g != 'Control' && datum.g != 'Case'"}],
 "mark": {"type": "tick", "orient": "horizontal", "size": 15, "thickness": 1.5},
 "encoding": {"color": {"field": "g", "type": "nominal", "legend": null}}}
]
},
{
"width": 149, "height": 109,
"title": {"text": "Clostridium sp", "dx": 6.5, "dy": 38},
"resolve": {"scale": {"xOffset": "independent"}},
"encoding": {
  "x": {"field": "g", "type": "nominal", "scale": {"domain": ["Control","Case","Stage 0","Stage I","Stage II"], "range": [0,149], "paddingInner": 0, "paddingOuter": 0.16}, "axis": null},
  "y": {"field": "v", "type": "quantitative", "scale": {"domain": [-10,10], "range": [101.3,0.7], "nice": false, "zero": false}, "axis": {"title": ["Abundance of Tryptophanase DNA", "(log2 transformed fold change)"], "values": [-10,-5,0,5,10], "titleX": -38, "titleY": 53.5}}
},
"layer": [
{"data": {"name": "pts"}, "transform": [{"filter": "datum.sp == 'CS' && (datum.g == 'Control' || datum.g == 'Case')"}, {"window": [{"op": "row_number", "as": "rk"}], "groupby": ["g", "v"]}],
 "mark": {"type": "point", "shape": "circle", "filled": true, "opacity": 1, "size": 26, "strokeWidth": 0},
 "encoding": {
  "xOffset": {"field": "rk", "type": "ordinal", "scale": {"domain": [12,10,8,6,4,2,1,3,5,7,9,11,13], "paddingInner": 0, "paddingOuter": 0}},
  "color": {"field": "g", "type": "nominal", "scale": {"domain": ["Control","Case","Stage 0","Stage I","Stage II"], "range": ["#1010c8","#ff1010","#f54040","#fca8a8","#fb9f36"]}}
 }},
{"data": {"name": "pts"}, "transform": [{"filter": "datum.sp == 'CS' && datum.g != 'Control' && datum.g != 'Case'"}, {"window": [{"op": "row_number", "as": "rk"}], "groupby": ["g", "v"]}],
 "mark": {"type": "point", "shape": "circle", "filled": true, "opacity": 1, "size": 26, "strokeWidth": 0},
 "encoding": {
  "xOffset": {"field": "rk", "type": "ordinal", "scale": {"domain": [6,4,2,1,3,5,7], "paddingInner": 0, "paddingOuter": 0}},
  "color": {"field": "g", "type": "nominal"}
 }},
{"data": {"name": "med"}, "transform": [{"filter": "datum.sp == 'CS' && datum.p == 'B' && (datum.g == 'Control' || datum.g == 'Case')"}],
 "mark": {"type": "tick", "orient": "horizontal", "size": 22, "thickness": 1.5},
 "encoding": {"color": {"field": "g", "type": "nominal", "legend": null}}},
{"data": {"name": "med"}, "transform": [{"filter": "datum.sp == 'CS' && datum.p == 'B' && datum.g != 'Control' && datum.g != 'Case'"}],
 "mark": {"type": "tick", "orient": "horizontal", "size": 15, "thickness": 1.5},
 "encoding": {"color": {"field": "g", "type": "nominal", "legend": null}}},
{"data": {"name": "brk"}, "transform": [{"filter": "datum.sp == 'CS' && datum.p == 'B'"}],
 "mark": {"type": "line", "color": "#333333", "strokeWidth": 1.2},
 "encoding": {"x": {"field": "g", "type": "nominal", "bandPosition": 0.5}, "detail": {"field": "id", "type": "nominal"}, "order": {"field": "k", "type": "quantitative"}}},
{"data": {"name": "lab"}, "transform": [{"filter": "datum.sp == 'CS' && datum.p == 'B'"}],
 "mark": {"type": "text", "fontSize": 12.5, "color": "#333333", "baseline": "middle"},
 "encoding": {"x": {"field": "g", "type": "nominal", "bandPosition": 0.5}, "text": {"field": "t"}}}
]
}
]
}
]
}
